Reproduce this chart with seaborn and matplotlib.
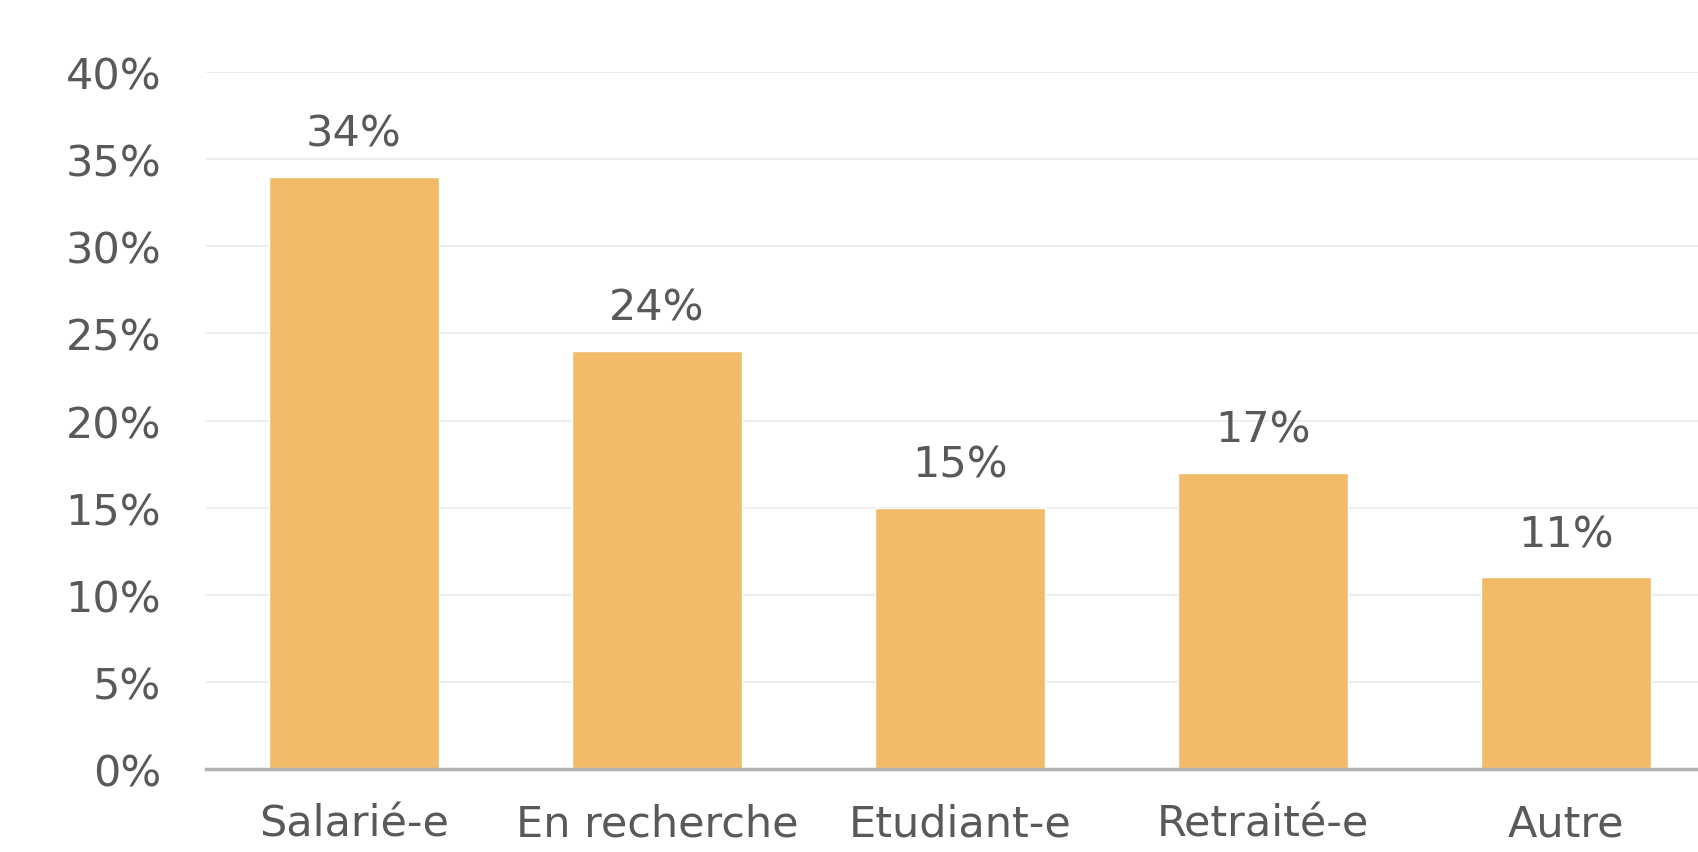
import matplotlib
matplotlib.use("Agg")
import matplotlib.pyplot as plt
import seaborn as sns
import pandas as pd
from matplotlib.ticker import PercentFormatter

# Data
categories = ["Salarié-e", "En recherche", "Etudiant-e", "Retraité-e", "Autre"]
shares = [34, 24, 15, 17, 11]
labels = ["34%", "24%", "15%", "17%", "11%"]

df = pd.DataFrame({"statut": categories, "part": shares})

sns.set_theme(style="white")
plt.rcParams["font.family"] = ["DejaVu Sans"]

text_color = "#595959"
bar_color = "#F2BB6A"
fs = 31

fig = plt.figure(figsize=(16.99, 8.53), dpi=100)
ax = fig.add_axes([0.121, 0.0973, 0.888, 0.817])

sns.barplot(data=df, x="statut", y="part", color=bar_color, width=0.56,
            saturation=1, ax=ax)

ax.set_xlim(-0.49, 4.49)
ax.set_ylim(0, 40)
ax.set_yticks(range(0, 41, 5))
ax.yaxis.set_major_formatter(PercentFormatter(decimals=0))

ax.grid(axis="y", color="#EBEBEB", linewidth=1.2)
ax.set_axisbelow(True)
for side in ["top", "right", "left"]:
    ax.spines[side].set_visible(False)
ax.spines["bottom"].set_color("#B3B3B3")
ax.spines["bottom"].set_linewidth(2.5)

ax.tick_params(axis="y", length=0, pad=32, labelsize=fs, labelcolor=text_color)
ax.tick_params(axis="x", length=0, pad=24, labelsize=fs, labelcolor=text_color)
ax.set_xlabel("")
ax.set_ylabel("")

# value labels above bars
for i, (v, lab) in enumerate(zip(shares, labels)):
    ax.annotate(lab, (i, v), xytext=(0, 16), textcoords="offset points",
                ha="center", va="bottom", fontsize=fs, color=text_color)

fig.savefig("out.png", dpi=100, facecolor="white")
